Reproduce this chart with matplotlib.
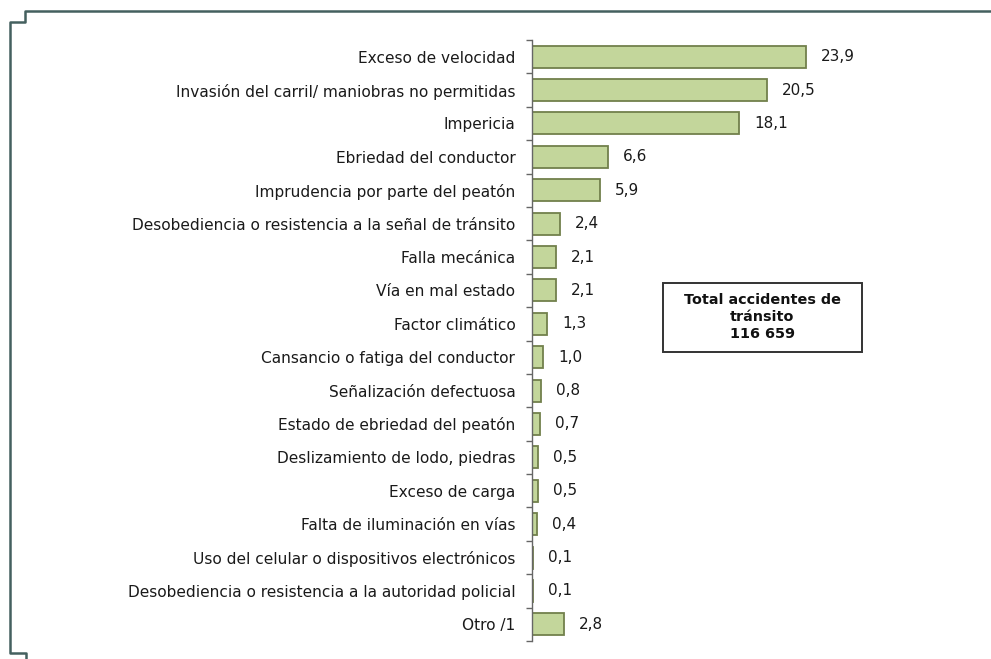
import matplotlib
matplotlib.use('Agg')
import matplotlib.pyplot as plt
from matplotlib.lines import Line2D
from matplotlib.patches import Rectangle

plt.rcParams['font.family'] = ['DejaVu Sans']

causas = [
    'Exceso de velocidad',
    'Invasión del carril/ maniobras no permitidas',
    'Impericia',
    'Ebriedad del conductor',
    'Imprudencia por parte del peatón',
    'Desobediencia o resistencia a la señal de tránsito',
    'Falla mecánica',
    'Vía en mal estado',
    'Factor climático',
    'Cansancio o fatiga del conductor',
    'Señalización defectuosa',
    'Estado de ebriedad del peatón',
    'Deslizamiento de lodo, piedras',
    'Exceso de carga',
    'Falta de iluminación en vías',
    'Uso del celular o dispositivos electrónicos',
    'Desobediencia o resistencia a la autoridad policial',
    'Otro /1',
]
porcentajes = [23.9, 20.5, 18.1, 6.6, 5.9, 2.4, 2.1, 2.1, 1.3, 1.0,
               0.8, 0.7, 0.5, 0.5, 0.4, 0.1, 0.1, 2.8]
total_texto = 'Total accidentes de\ntránsito\n116 659'

W, H = 991, 659
fig = plt.figure(figsize=(W / 100, H / 100), dpi=100)

# axes placed in pixel terms: axis line at x=532, rows from y=40 to y=641
px_per_unit = 11.46
xmax = 32
left = 532 / W
width = xmax * px_per_unit / W
bottom = 1 - 641 / H
top = 1 - 40 / H
ax = fig.add_axes([left, bottom, width, top - bottom])

pos = list(range(len(causas)))
ax.barh(pos, porcentajes, height=0.66, color='#c3d69b', edgecolor='#72804c',
        linewidth=1.3)
ax.set_ylim(len(causas) - 0.5, -0.5)
ax.set_xlim(0, xmax)

for y, v in zip(pos, porcentajes):
    ax.annotate(f'{v:.1f}'.replace('.', ','), (v, y), xytext=(11, 0),
                textcoords='offset points', va='center', ha='left',
                fontsize=11, color='#1a1a1a')

ax.set_yticks(pos)
ax.set_yticklabels(causas, fontsize=11.1, color='#1a1a1a')
ax.set_yticks([p + 0.5 for p in pos[:-1]] + [-0.5, len(causas) - 0.5], minor=True)
ax.tick_params(axis='y', which='major', length=0, pad=12)
ax.tick_params(axis='y', which='minor', length=4, width=1, color='#666666',
               direction='out')
ax.set_xticks([])
for s in ['top', 'right', 'bottom']:
    ax.spines[s].set_visible(False)
ax.spines['left'].set_color('#666666')
ax.spines['left'].set_linewidth(1)

# summary box (pixel box 663..862 x 283..352)
fig.add_artist(Rectangle((663 / W, 1 - 352 / H), (862 - 663) / W, (352 - 283) / H,
                         transform=fig.transFigure, facecolor='white',
                         edgecolor='#333333', linewidth=1.4))
fig.text(762 / W, 1 - 317 / H, total_texto, ha='center', va='center',
         fontsize=10.4, fontweight='bold', color='#111111', linespacing=1.3)

# outer frame lines (pixel coordinates, origin top-left)
frame_pts = [(W, 11), (25, 11), (25, 22), (10, 22), (10, 653), (26, 653), (26, H)]
xs = [p[0] / W for p in frame_pts]
ys = [1 - p[1] / H for p in frame_pts]
fig.add_artist(Line2D(xs, ys, color='#44605f', linewidth=1.8,
                      transform=fig.transFigure))

fig.savefig('out.png', dpi=100, facecolor='white')
